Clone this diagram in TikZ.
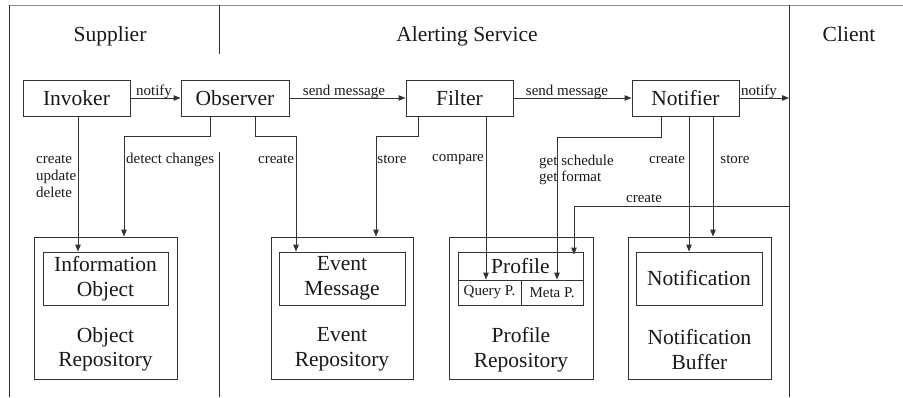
\documentclass[tikz,border=0pt]{standalone}
\usepackage{fontspec}
\setmainfont{Liberation Serif}
\usetikzlibrary{arrows.meta}

\tikzset{
  line/.style={draw=black!80, line width=0.9pt},
  arr/.style={line, -{Triangle[length=7pt,width=5.5pt]}},
  big/.style={font=\fontsize{21.5}{24.5}\selectfont, text=black!90},
  small/.style={font=\fontsize{15}{16.7}\selectfont, text=black!90, inner sep=0pt},
  actor/.style={line, big, rectangle, minimum width=107pt, minimum height=36pt, inner sep=0pt},
  repo/.style={line, rectangle, minimum height=142pt, inner sep=0pt},
  item/.style={line, big, rectangle, minimum height=53pt, inner sep=0pt, align=center},
  cell/.style={line, rectangle, inner sep=0pt},
  repolabel/.style={big, align=center, inner sep=0pt},
}

\begin{document}
\begin{tikzpicture}[x=1pt, y=-1pt]
  \useasboundingbox (0,0) rectangle (903,397);

  % swimlane frame
  \draw[draw=black!45, line width=0.9pt] (9,5) -- (903,5);
  \draw[line] (9,5) -- (9,397);
  \draw[line] (219,5) -- (219,54);
  \draw[line] (219,152) -- (219,397);
  \draw[line] (789,5) -- (789,397);

  % lane titles
  \node[big, anchor=base] (tsup) at (110,41) {Supplier};
  \node[big, anchor=base] (talert) at (467,41) {Alerting Service};
  \node[big, anchor=base] (tclient) at (849,41) {Client};

  % components
  \node[actor] (invoker)  at (76.5,98)  {Invoker};
  \node[actor, minimum width=108pt] (observer) at (235,98) {Observer};
  \node[actor] (filter)   at (459.5,98) {Filter};
  \node[actor] (notifier) at (685.5,98) {Notifier};

  % repositories
  \node[repo, minimum width=143pt] (objrepo)  at (105.5,308) {};
  \node[repo, minimum width=142pt] (evrepo)   at (342,308)   {};
  \node[repo, minimum width=144pt] (profrepo) at (521,308)   {};
  \node[repo, minimum width=143pt] (notbuf)   at (699.5,308) {};

  \node[repolabel] (lobj)  at (105.5,349.5) {Object\\Repository};
  \node[repolabel] (lev)   at (342,349.5)   {Event\\Repository};
  \node[repolabel] (lprof) at (521,349.5)   {Profile\\Repository};
  \node[repolabel] (lnot)  at (699.5,349.5) {Notification\\Buffer};

  % stored items
  \node[item, minimum width=125pt] (infobj) at (105.5,278.5) {Information\\Object};
  \node[item, minimum width=126pt] (evmsg)  at (342,278.5)   {Event\\Message};
  \node[item, minimum width=126pt] (notif)  at (699,278.5)   {Notification};

  \node[cell, big, minimum width=125pt, minimum height=28pt] (proftop) at (520.5,266) {Profile};
  \node[cell, small, minimum width=63pt, minimum height=25pt] (query) at (489.5,292.5) {Query P.};
  \node[cell, small, minimum width=62pt, minimum height=25pt] (meta)  at (552,292.5)   {Meta P.};

  % client-side endpoints on the lane border
  \coordinate (clientin)  at (789,98);
  \coordinate (clientsrc) at (789,206);

  % message flow
  \draw[arr] (invoker) -- (observer);
  \draw[arr] (observer) -- (filter);
  \draw[arr] (filter) -- (notifier);
  \draw[arr] (notifier) -- (clientin);
  \node[small, anchor=base] (lnotify1) at (154,95) {notify};
  \node[small, anchor=base] (lsend1)   at (344,95) {send message};
  \node[small, anchor=base] (lsend2)   at (567,95) {send message};
  \node[small, anchor=base] (lnotify2) at (759,95) {notify};

  % supplier side
  \draw[arr] ([xshift=1.5]invoker.south) -- ([xshift=-27.5]infobj.north);
  \node[small, anchor=base west] (lcreate1) at (36,163) {create};
  \node[small, anchor=base west] (lupdate)  at (36,180) {update};
  \node[small, anchor=base west] (ldelete)  at (36,197) {delete};

  \draw[arr] ([xshift=-25]observer.south) -- ++(0,20) -| ([xshift=18.5]objrepo.north);
  \node[small, anchor=base west] (ldetect) at (126,163) {detect changes};

  % event handling
  \draw[arr] ([xshift=20]observer.south) -- ++(0,20) -| ([xshift=-46]evmsg.north);
  \node[small, anchor=base] (lcreate2) at (276,163) {create};

  \draw[arr] ([xshift=-41.5]filter.south) -- ++(0,20) -| ([xshift=34]evrepo.north);
  \node[small, anchor=base] (lstore1) at (392,163) {store};

  \draw[arr] ([xshift=26.5]filter.south) -- ([xshift=-3.5]query.north);
  \node[small, anchor=base] (lcompare) at (458,161) {compare};

  \draw[arr] ([xshift=-24.5]notifier.south) -- ++(0,21) -| ([xshift=5]meta.north);
  \node[small, anchor=base west] (lsched)  at (539,165) {get schedule};
  \node[small, anchor=base west] (lformat) at (539,181) {get format};

  \draw[arr] ([xshift=3.5]notifier.south) -- ([xshift=-10]notif.north);
  \node[small, anchor=base] (lcreate3) at (667,163) {create};

  \draw[arr] ([xshift=27.5]notifier.south) -- ([xshift=13.5]notbuf.north);
  \node[small, anchor=base] (lstore2) at (735,163) {store};

  % profile creation by the client
  \draw[arr] (clientsrc) -| ([xshift=53.5,yshift=-3]proftop.north);
  \node[small, anchor=base] (lcreate4) at (644,202) {create};
\end{tikzpicture}
\end{document}
